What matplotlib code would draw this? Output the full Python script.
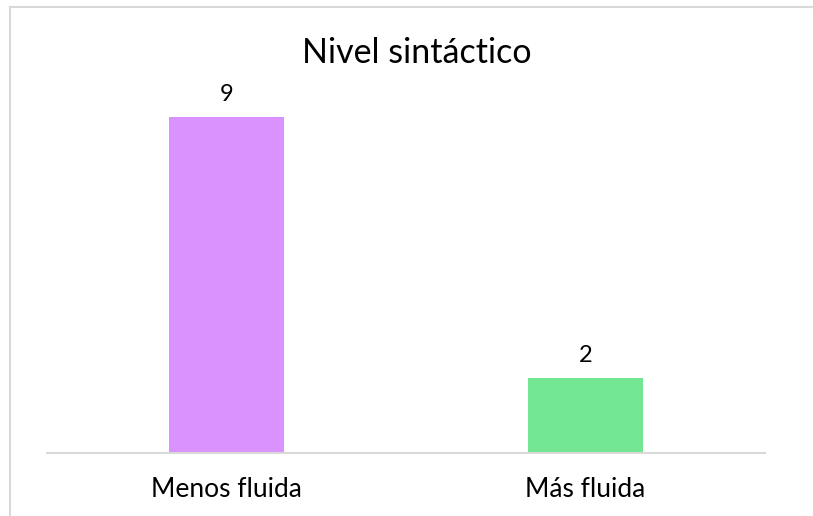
import matplotlib.pyplot as plt
from matplotlib.lines import Line2D

# datos
categorias = ["Menos fluida", "Más fluida"]
valores = [9, 2]
colores = ["#DA92FE", "#72E690"]
titulo = "Nivel sintáctico"

W, H = 813, 516
fig = plt.figure(figsize=(W / 100, H / 100), dpi=100)
plt.rcParams['font.family'] = ['Lato', 'DejaVu Sans']

# borde del grafico (solo se ven arriba e izquierda)
yb = 1 - 6.5 / H
xb = 10 / W
fig.lines.append(Line2D([xb, 1.0], [yb, yb], transform=fig.transFigure,
                        color="#D9D9D9", linewidth=1.5))
fig.lines.append(Line2D([xb, xb], [0.0, yb], transform=fig.transFigure,
                        color="#D9D9D9", linewidth=1.5))

# area de trazado
x0, x1 = 47, 765
y_base, y_top = 453, 80
ax = fig.add_axes([x0 / W, 1 - y_base / H, (x1 - x0) / W, (y_base - y_top) / H])

barras = ax.bar(categorias, valores, width=0.318, color=colores)
for b, v in zip(barras, valores):
    ax.annotate(str(v), (b.get_x() + b.get_width() / 2, v),
                xytext=(0, 9), textcoords="offset points",
                ha="center", va="bottom", fontsize=17)

ax.set_xlim(-0.5, 1.5)
ax.set_ylim(0, 10)
ax.set_yticks([])
for s in ["top", "right", "left"]:
    ax.spines[s].set_visible(False)
ax.spines["bottom"].set_color("#D9D9D9")
ax.spines["bottom"].set_linewidth(1.5)
ax.tick_params(axis="x", length=0, labelsize=19, pad=17)

fig.text(417 / W, 1 - 53 / H, titulo, ha="center", va="center", fontsize=24.5)

fig.savefig("out.png", dpi=100)
